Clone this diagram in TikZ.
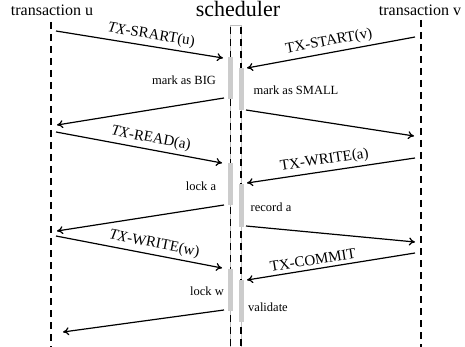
\documentclass[tikz,border=0pt]{standalone}
\usepackage{fontspec}
\setmainfont{Liberation Serif}
\usetikzlibrary{arrows.meta}
\begin{document}
\begin{tikzpicture}[x=1pt,y=-1pt,
  lifeline/.style={line width=1.8pt,dash pattern=on 7pt off 5pt},
  msg/.style={line width=1.2pt,-{To[length=6pt,width=8pt]}},
  bar/.style={fill=black!20,draw=none,minimum width=5pt,inner sep=0pt},
  title/.style={font=\fontsize{16}{18}\selectfont},
  mlabel/.style={font=\fontsize{15}{17}\selectfont,inner sep=0.5pt,above=3pt,sloped},
  note/.style={font=\fontsize{12.5}{14}\selectfont,inner sep=0pt}]
\useasboundingbox (0,0) rectangle (465,347);
% titles
\node[title] (tu) at (52,10) {transaction u};
\node[font=\fontsize{22}{24}\selectfont] (ts) at (238,9) {scheduler};
\node[title] (tv) at (420,10) {transaction v};
% lifelines
\coordinate (utop) at (51,22); \coordinate (ubot) at (51,347);
\coordinate (vtop) at (421,20); \coordinate (vbot) at (421,347);
\coordinate (sltop) at (230.5,27); \coordinate (slbot) at (230.5,347);
\coordinate (srtop) at (241,27); \coordinate (srbot) at (241,347);
\draw[black!25,line width=0.4pt] (230.5,347) -- (230.5,25) -- (241,25) -- (241,347);
\draw[lifeline] (utop) -- (ubot);
\draw[lifeline] (vtop) -- (vbot);
\draw[lifeline] (sltop) -- (slbot);
\draw[lifeline] (srtop) -- (srbot);
% activity bars
\node[bar,minimum height=42pt] (L1) at (230,78) {};
\node[bar,minimum height=42pt] (R1) at (241,89) {};
\node[bar,minimum height=42pt] (L2) at (230,184) {};
\node[bar,minimum height=43pt] (R2) at (241,205.5) {};
\node[bar,minimum height=42pt] (L3) at (230,290) {};
\node[bar,minimum height=42pt] (R3) at (241,301) {};
% notes
\node[note] (n1) at (184,80) {mark as BIG};
\node[note] (n2) at (296,90) {mark as SMALL};
\node[note] (n3) at (201,186) {lock a};
\node[note] (n4) at (271,207) {record a};
\node[note] (n5) at (207,291) {lock w};
\node[note] (n6) at (268,307) {validate};
% message end points
\coordinate (a1s) at (56,31);  \coordinate (a1e) at (223,58);
\coordinate (a2s) at (415,37); \coordinate (a2e) at (247,68);
\coordinate (a3s) at (224,98); \coordinate (a3e) at (57,125);
\coordinate (a4s) at (246,110); \coordinate (a4e) at (414,136);
\coordinate (a5s) at (56,132); \coordinate (a5e) at (222,163);
\coordinate (a6s) at (415,158); \coordinate (a6e) at (247,183);
\coordinate (a7s) at (224,205); \coordinate (a7e) at (57,231);
\coordinate (a8s) at (246,226); \coordinate (a8e) at (415,242);
\coordinate (a9s) at (56,236); \coordinate (a9e) at (222,268);
\coordinate (a10s) at (415,253); \coordinate (a10e) at (247,280);
\coordinate (a11s) at (224,310); \coordinate (a11e) at (63,332);
% messages
\draw[msg] (a1s) -- node[mlabel,pos=0.56] {\textit{TX}-SRART(u)} (a1e);
\draw[msg] (a2s) -- node[mlabel,pos=0.5] {TX-START(v)} (a2e);
\draw[msg] (a3s) -- (a3e);
\draw[msg] (a4s) -- (a4e);
\draw[msg] (a5s) -- node[mlabel,pos=0.56] {\textit{TX}-READ(a)} (a5e);
\draw[msg] (a6s) -- node[mlabel,pos=0.53] {TX-WRITE(a)} (a6e);
\draw[msg] (a7s) -- (a7e);
\draw[msg] (a8s) -- (a8e);
\draw[msg] (a9s) -- node[mlabel,pos=0.58] {\textit{TX}-WRITE(w)} (a9e);
\draw[msg] (a10s) -- node[mlabel,pos=0.6] {TX-COMMIT} (a10e);
\draw[msg] (a11s) -- (a11e);
\end{tikzpicture}
\end{document}
